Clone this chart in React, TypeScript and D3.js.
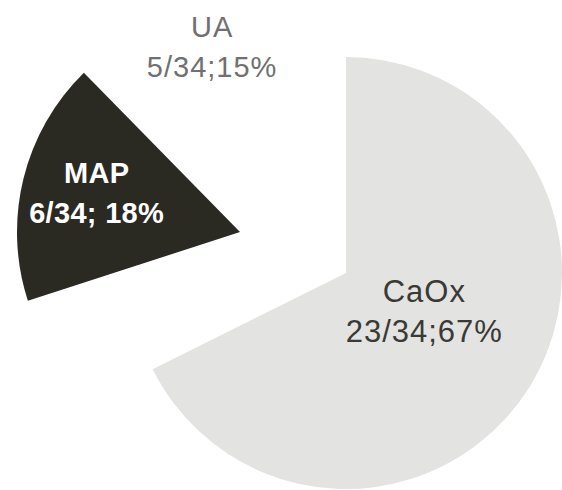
import React from 'react';
import * as d3 from 'd3';

// ---- data ----
const categories = ['CaOx', 'MAP', 'UA'];
const counts = [23, 6, 5];
const valueLabels = ['23/34;67%', '6/34; 18%', '5/34;15%'];

// ---- styles ----
const fills = ['#e3e3e1', '#2a2a23', '#ffffff'];
const textColors = ['#3a3a34', '#ffffff', '#707070'];
const fontWeights = ['normal', 'bold', 'normal'];
const fontSizes = [31, 29, 29];
const letterSpacings = [1, 0.3, 1];
const radii = [216, 223, 216];
const explode: [number, number][] = [[0, 0], [-106, -41], [0, 0]];
const sliceRotate = [0, 8.5, 0];
const labelRadius = [85, 146, 260];
const labelNudge: [number, number][] = [[6, -7], [2, -27], [-18, 6]];

const W = 562;
const H = 490;
const cx = 346;
const cy = 273;

export default function App() {
  const pie = d3.pie<number>().value((d) => d).sort(null);
  const arcs = pie(counts);

  return (
    <svg
      width={W}
      height={H}
      style={{ position: 'absolute', left: 0, top: 0, background: '#fff' }}
      fontFamily="'Liberation Sans', Arial, sans-serif"
    >
      <rect width={W} height={H} fill="#fff" />
      <g transform={`translate(${cx},${cy})`}>
        {arcs.map((a, i) => {
          const arc = d3.arc<d3.PieArcDatum<number>>().innerRadius(0).outerRadius(radii[i]);
          const [ox, oy] = explode[i];
          return (
            <path
              key={categories[i]}
              d={arc(a) || ''}
              fill={fills[i]}
              transform={`translate(${ox},${oy}) rotate(${sliceRotate[i]})`}
            />
          );
        })}
        {arcs.map((a, i) => {
          const lab = d3.arc<d3.PieArcDatum<number>>().innerRadius(labelRadius[i]).outerRadius(labelRadius[i]);
          const [px, py] = lab.centroid(a);
          const [ox, oy] = explode[i];
          const [nx, ny] = labelNudge[i];
          const x = px + ox + nx;
          const y = py + oy + ny;
          return (
            <text
              key={'l' + categories[i]}
              x={x}
              y={y}
              textAnchor="middle"
              fill={textColors[i]}
              fontSize={fontSizes[i]}
              fontWeight={fontWeights[i]}
              letterSpacing={letterSpacings[i]}
            >
              <tspan x={x} dy={-9}>{categories[i]}</tspan>
              <tspan x={x} dy={40}>{valueLabels[i]}</tspan>
            </text>
          );
        })}
      </g>
    </svg>
  );
}
